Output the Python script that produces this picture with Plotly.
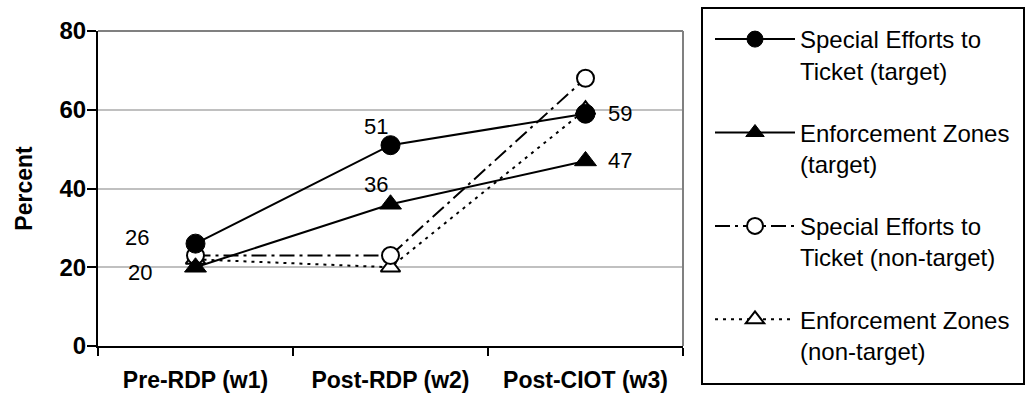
import plotly.graph_objects as go

categories = ["Pre-RDP (w1)", "Post-RDP (w2)", "Post-CIOT (w3)"]
se_target = [26, 51, 59]
ez_target = [20, 36, 47]
se_nontarget = [23, 23, 68]
ez_nontarget = [22, 20, 60]

names = [
    "Special Efforts to<br>Ticket (target)",
    "Enforcement Zones<br>(target)",
    "Special Efforts to<br>Ticket (non-target)",
    "Enforcement Zones<br>(non-target)",
]

FONT = "Arial, 'Liberation Sans', sans-serif"
fig = go.Figure()

# non-target drawn first so target markers sit on top
fig.add_trace(go.Scatter(
    x=categories, y=ez_nontarget, name=names[3], mode="lines+markers",
    line=dict(color="black", width=2, dash="3px,5px"),
    marker=dict(symbol="triangle-up", size=17, color="white", line=dict(color="black", width=2)),
    legendgroup="d", legendrank=4))
fig.add_trace(go.Scatter(
    x=categories, y=se_nontarget, name=names[2], mode="lines+markers",
    line=dict(color="black", width=2, dash="15px,5px,3px,5px"),
    marker=dict(symbol="circle", size=17, color="white", line=dict(color="black", width=2)),
    legendgroup="c", legendrank=3))
fig.add_trace(go.Scatter(
    x=categories, y=ez_target, name=names[1], mode="lines+markers",
    line=dict(color="black", width=2),
    marker=dict(symbol="triangle-up", size=19, color="black", line=dict(color="black", width=1)),
    legendgroup="b", legendrank=2))
fig.add_trace(go.Scatter(
    x=categories, y=se_target, name=names[0], mode="lines+markers",
    line=dict(color="black", width=2),
    marker=dict(symbol="circle", size=19, color="black", line=dict(color="black", width=1)),
    legendgroup="a", legendrank=1))

# data labels for target series
se_shift = [(-59, 6), (-15, 19), (34, 0)]
ez_shift = [(-56, -5), (-15, 20), (34, 0)]
for vals, shifts in ((se_target, se_shift), (ez_target, ez_shift)):
    for c, v, (dx, dy) in zip(categories, vals, shifts):
        fig.add_annotation(x=c, y=v, xref="x", yref="y", text=str(v), showarrow=False,
                           xshift=dx, yshift=dy, font=dict(family=FONT, size=22, color="black"))

# legend frame
fig.add_shape(type="rect", xref="paper", yref="paper",
              x0=(702 - 98) / 585, x1=(1024 - 98) / 585,
              y0=(346 - 384) / 315, y1=(346 - 8) / 315,
              line=dict(color="black", width=2), fillcolor="rgba(0,0,0,0)", layer="above")
# plot area border (top/right grey)
fig.add_shape(type="line", xref="paper", yref="paper", x0=1, x1=1, y0=0, y1=1,
              line=dict(color="#808080", width=2))
fig.add_shape(type="line", xref="paper", yref="paper", x0=0, x1=1, y0=1, y1=1,
              line=dict(color="#808080", width=2))

fig.update_layout(
    width=1026, height=395,
    margin=dict(l=98, r=343, t=31, b=49, autoexpand=False),
    paper_bgcolor="white", plot_bgcolor="white",
    font=dict(family=FONT, color="black"),
    showlegend=True,
    legend=dict(
        x=(710 - 98) / 585, xanchor="left", y=(346 - 17) / 315, yanchor="top",
        bgcolor="rgba(0,0,0,0)", borderwidth=0,
        font=dict(family=FONT, size=24, color="black"),
        itemwidth=80, valign="top", tracegroupgap=28, traceorder="grouped",
        itemclick=False, itemdoubleclick=False, maxheight=1.0,
    ),
    xaxis=dict(
        type="category", range=[-0.5, 2.5], showgrid=False, automargin=False,
        showline=True, linecolor="black", linewidth=2,
        ticks="outside", tickson="boundaries", ticklen=8, tickwidth=2, tickcolor="black",
        tickfont=dict(family=FONT, size=23, color="black", weight="bold"),
        ticklabelstandoff=12, zeroline=False,
    ),
    yaxis=dict(
        range=[0, 80], tickvals=[0, 20, 40, 60, 80], automargin=False,
        showgrid=True, gridcolor="#c0c0c0", gridwidth=2,
        showline=True, linecolor="black", linewidth=2,
        ticks="outside", ticklen=9, tickwidth=2, tickcolor="black",
        tickfont=dict(family=FONT, size=24, color="black", weight="bold"),
        ticklabelstandoff=-4, zeroline=False,
        title=dict(text="<b>Percent</b>", font=dict(family=FONT, size=23, color="black"), standoff=20),
    ),
)

fig.write_html("out.html")
